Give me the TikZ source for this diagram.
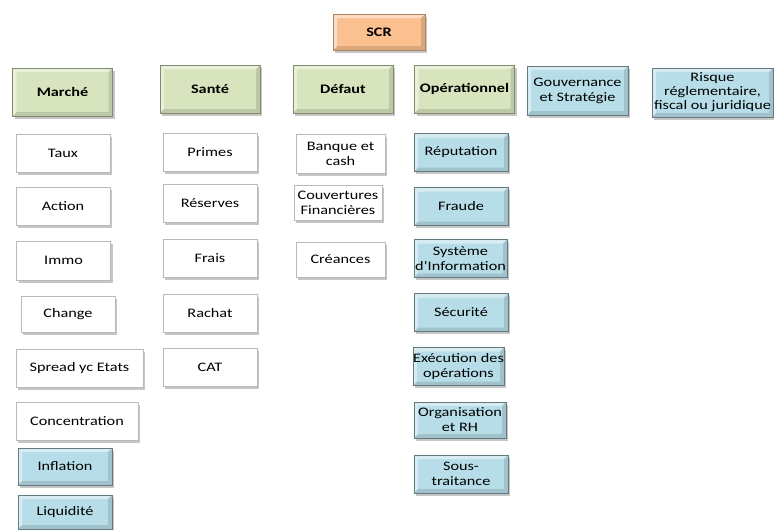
\documentclass[tikz,border=0pt]{standalone}
\usepackage{fontspec}
\setmainfont[FakeStretch=1.25]{Carlito}
\usepackage{xcolor}
\definecolor{peche}{HTML}{FAC090}
\definecolor{vertpale}{HTML}{D7E4BD}
\definecolor{bleupale}{HTML}{B7DEE8}
\usetikzlibrary{positioning, shadows}

\begin{document}
\begin{tikzpicture}[x=1pt, y=-1pt,
      boite/.style={align=center, inner sep=0pt, minimum width=94pt,
                    minimum height=38pt, font=\fontsize{13}{15}\selectfont,
                    drop shadow={opacity=0.45, shadow xshift=2pt,
                                 shadow yshift=-2.5pt}},
      biseau/.style={path picture={
          \coordinate (bnw) at (path picture bounding box.north west);
          \coordinate (bne) at (path picture bounding box.north east);
          \coordinate (bsw) at (path picture bounding box.south west);
          \coordinate (bse) at (path picture bounding box.south east);
          \fill[white, opacity=0.45] (bnw) -- (bne) -- ([shift={(-4pt,-4pt)}]bne)
              -- ([shift={(4pt,-4pt)}]bnw) -- ([shift={(4pt,4pt)}]bsw) -- (bsw) -- cycle;
          \fill[black, opacity=0.12] (bse) -- (bsw) -- ([shift={(4pt,4pt)}]bsw)
              -- ([shift={(-4pt,4pt)}]bse) -- ([shift={(-4pt,-4pt)}]bne) -- (bne) -- cycle;
        }},
      racine/.style={boite, biseau, fill=peche, draw=peche!70!black,
                     font=\fontsize{13}{15}\selectfont\bfseries},
      famille/.style={boite, biseau, fill=vertpale, draw=vertpale!60!black,
                      minimum width=100pt, minimum height=48pt,
                      font=\fontsize{13}{15}\selectfont\bfseries},
      module/.style={boite, fill=white, draw=gray!55},
      risqueop/.style={boite, biseau, fill=bleupale, draw=bleupale!55!black}]
    \useasboundingbox (0,0) rectangle (774,530);
    % racine
    \node[racine, minimum width=92pt, minimum height=36pt] (scr) at (379,32) {SCR};
    % familles de risques
    \node[famille] (marche) at (62.5,92) {March\'e};
    \node[famille] (sante)  at (210,89)  {Sant\'e};
    \node[famille] (defaut) at (343,89)  {D\'efaut};
    \node[famille] (operat) at (464.5,89) {Op\'erationnel};
    \node[risqueop, minimum width=101pt, minimum height=49pt] (gouv) at (577.5,90.5)
        {Gouvernance\\et Strat\'egie};
    \node[risqueop, minimum width=121pt, minimum height=49pt,
          font=\fontsize{13}{14}\selectfont] (regl) at (712.5,92.5)
        {Risque\\r\'eglementaire,\\fiscal ou juridique};
    % marche
    \node[module] (taux)   at (63,153)   {Taux};
    \node[module] (action) at (63,206.5) {Action};
    \node[module, minimum height=39pt] (immo) at (63.5,260.5) {Immo};
    \node[module, minimum height=36pt] (change) at (68,314) {Change};
    \node[module, minimum width=127pt] (spread) at (79.5,368) {Spread yc Etats};
    \node[module, minimum width=122pt] (conc) at (77,421) {Concentration};
    \node[risqueop, minimum height=37pt] (inflation) at (65,466.5) {Inflation};
    \node[risqueop, minimum height=34pt] (liquid) at (65,512) {Liquidit\'e};
    % sante
    \node[module] (primes)   at (210,152.5) {Primes};
    \node[module] (reserves) at (210,203.5) {R\'eserves};
    \node[module] (frais)    at (210,258.5) {Frais};
    \node[module] (rachat)   at (210,313.5) {Rachat};
    \node[module] (cat)      at (210,367.5) {CAT};
    % defaut
    \node[module, minimum width=89pt, minimum height=39pt] (banque) at (340.5,153.5)
        {Banque et\\cash};
    \node[module, minimum width=88pt, minimum height=35pt] (couv) at (338,203)
        {Couvertures\\Financi\`eres};
    \node[module, minimum width=89pt, minimum height=35pt] (creances) at (340.5,259.5)
        {Cr\'eances};
    % operationnel
    \node[risqueop] (reput)  at (461,152.5) {R\'eputation};
    \node[risqueop] (fraude) at (461,206.5) {Fraude};
    \node[risqueop, minimum width=93pt] (si) at (460.5,258.5)
        {Syst\`eme\\d’Information};
    \node[risqueop] (secu)   at (461,312.5) {S\'ecurit\'e};
    \node[risqueop, minimum width=91pt] (exec) at (458.5,366.5)
        {Ex\'ecution des\\op\'erations};
    \node[risqueop, minimum width=92pt, minimum height=36pt] (orga) at (460,420)
        {Organisation\\et RH};
    \node[risqueop] (soustr) at (461,474) {Sous-\\traitance};
\end{tikzpicture}
\end{document}
